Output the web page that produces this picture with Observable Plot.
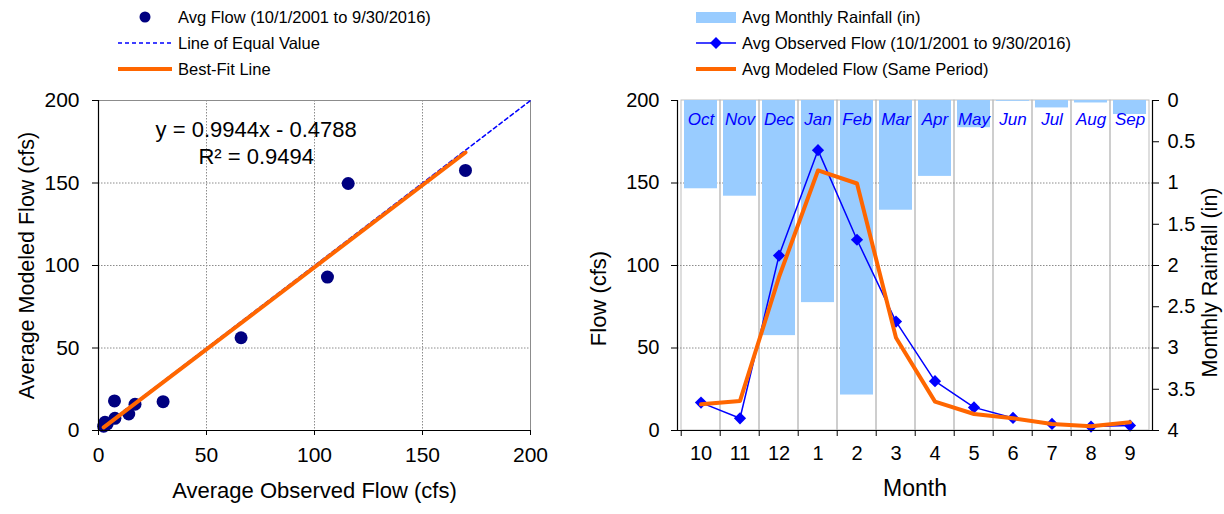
<!DOCTYPE html>
<html><head><meta charset="utf-8">
<script src="https://cdn.jsdelivr.net/npm/d3@7"></script>
<script src="https://cdn.jsdelivr.net/npm/@observablehq/plot@0.6"></script>
<style>
body{margin:0;background:#fff;}
#wrap{position:relative;width:1224px;height:514px;font-family:"Liberation Sans",Arial,sans-serif;overflow:hidden;background:#fff;}
.legend{position:absolute;font-size:16.5px;color:#000;}
.legend .row{display:flex;align-items:center;height:26px;white-space:nowrap;}
.legend .row svg{flex:none;margin-right:6px;}
#left{position:absolute;left:0;top:0;}
#right{position:absolute;left:580px;top:0;}
</style></head><body><div id="wrap">
<div id="left"></div><div id="right"></div>
<div class="legend" style="left:118px;top:4px">
  <div class="row"><svg width="54" height="20"><circle cx="27" cy="10" r="5.5" fill="#000080"/></svg>Avg Flow (10/1/2001 to 9/30/2016)</div>
  <div class="row"><svg width="54" height="20"><line x1="0" y1="10" x2="54" y2="10" stroke="#0000FF" stroke-width="1.5" stroke-dasharray="4,3"/></svg>Line of Equal Value</div>
  <div class="row"><svg width="54" height="20"><line x1="0" y1="10" x2="54" y2="10" stroke="#FF6600" stroke-width="4"/></svg>Best-Fit Line</div>
</div>
<div class="legend" style="left:696px;top:4px">
  <div class="row"><svg width="40" height="20"><rect x="0" y="5" width="40" height="11" fill="#99CCFF"/></svg>Avg Monthly Rainfall (in)</div>
  <div class="row"><svg width="40" height="20"><line x1="0" y1="10" x2="40" y2="10" stroke="#0000FF" stroke-width="1.5"/><path d="M20,4L26,10L20,16L14,10Z" fill="#0000FF"/></svg>Avg Observed Flow (10/1/2001 to 9/30/2016)</div>
  <div class="row"><svg width="40" height="20"><line x1="0" y1="10" x2="40" y2="10" stroke="#FF6600" stroke-width="4"/></svg>Avg Modeled Flow (Same Period)</div>
</div>
</div>
<script>
// ---- data ----
const months = ["10","11","12","1","2","3","4","5","6","7","8","9"];
const monthNames = ["Oct","Nov","Dec","Jan","Feb","Mar","Apr","May","Jun","Jul","Aug","Sep"];
const rainfall = [1.07, 1.16, 2.85, 2.45, 3.57, 1.33, 0.92, 0.33, 0.01, 0.09, 0.03, 0.17];
const observedFlow = [16.9, 7.4, 106, 169.9, 115.6, 66, 29.9, 14, 7.6, 4, 2.4, 3];
const modeledFlow = [15.9, 17.9, 93, 157.6, 149.7, 56.2, 17.5, 10, 7.4, 4, 2.6, 5];
const flowTicks = [0, 50, 100, 150, 200];
const rainTicks = [0, 0.5, 1, 1.5, 2, 2.5, 3, 3.5, 4];
const fitSlope = 0.9944, fitIntercept = -0.4788, fitR2 = 0.9494;
const equationText = "y = 0.9944x - 0.4788\nR² = 0.9494";
const equationPos = {x: 73, y: 175};

const FONT = "Liberation Sans, Arial, sans-serif";
const flowMax = 200, rainMax = 4;
const rainToFlow = r => flowMax - r * (flowMax / rainMax);

const table = months.map((m, i) => ({month: m, name: monthNames[i], rain: rainfall[i], observed: observedFlow[i], modeled: modeledFlow[i]}));
const scatter = table.map(d => ({obs: d.observed, mod: d.modeled}));
const fitX = [d3.min(observedFlow), d3.max(observedFlow)];
const fitLine = fitX.map(x => ({x, y: fitSlope * x + fitIntercept}));
const equalLine = [0, flowMax];

const grid = {stroke: "#8c8c8c", strokeOpacity: 1, strokeDasharray: "1.5,1.5"};

// ---- left: scatter ----
const left = Plot.plot({
  width: 580, height: 514,
  marginTop: 100, marginBottom: 84, marginLeft: 98, marginRight: 50,
  style: {fontFamily: FONT, fontSize: "21px", color: "#000", background: "transparent", overflow: "visible"},
  x: {domain: [0, 200]},
  y: {domain: [0, 200]},
  marks: [
    Plot.gridX({ticks: [50, 100, 150], ...grid}),
    Plot.gridY({ticks: [50, 100, 150], ...grid}),
    Plot.frame({stroke: "#8c8c8c"}),
    Plot.line(equalLine, {x: d => d, y: d => d, stroke: "#0000FF", strokeWidth: 1.5, strokeDasharray: "4,3"}),
    Plot.dot(scatter, {x: "obs", y: "mod", r: 6.5, fill: "#000080"}),
    Plot.line(fitLine, {x: "x", y: "y", stroke: "#FF6600", strokeWidth: 4}),
    Plot.ruleX([0], {stroke: "#000", strokeWidth: 1.2}),
    Plot.ruleY([0], {stroke: "#000", strokeWidth: 1.2}),
    Plot.axisX({ticks: flowTicks, tickSize: 5, tickPadding: 12, label: null, fontSize: 21}),
    Plot.axisY({ticks: flowTicks, tickSize: 6, tickPadding: 13, label: null, fontSize: 21}),
    Plot.text([equationText], {x: equationPos.x, y: equationPos.y, text: d => d, fontSize: 22, lineHeight: 1.23, fill: "#000"}),
    Plot.text(["Average Observed Flow (cfs)"], {frameAnchor: "bottom", textAnchor: "middle", dy: 67, text: d => d, fontSize: 22, fill: "#000"}),
    Plot.text(["Average Modeled Flow (cfs)"], {frameAnchor: "left", textAnchor: "middle", dx: -71, rotate: -90, text: d => d, fontSize: 21.5, fill: "#000"})
  ]
});
document.getElementById("left").appendChild(left);

// ---- right: monthly ----
const rW = 644, rML = 97, rMR = 72;
const bw = (rW - rML - rMR) / months.length;
const right = Plot.plot({
  width: rW, height: 514,
  marginTop: 100, marginBottom: 84, marginLeft: rML, marginRight: rMR,
  style: {fontFamily: FONT, fontSize: "20px", color: "#000", background: "transparent", overflow: "visible"},
  x: {type: "band", domain: months, padding: 0},
  y: {domain: [0, flowMax]},
  marks: [
    Plot.barY(table, {x: "month", y1: 0, y2: flowMax, fill: "none", stroke: "#bdbdbd"}),
    Plot.gridY({ticks: [50, 100, 150], ...grid}),
    Plot.barY(table, {x: "month", y1: flowMax, y2: d => rainToFlow(d.rain), fill: "#99CCFF", insetLeft: 3, insetRight: 3}),
    Plot.text(table, {x: "month", frameAnchor: "top", dy: 12, text: "name", fill: "#0000FF", fontStyle: "italic", fontSize: 17}),
    Plot.line(table, {x: "month", y: "observed", stroke: "#0000FF", strokeWidth: 1.5}),
    Plot.dot(table, {x: "month", y: "observed", symbol: "diamond2", r: 5.5, fill: "#0000FF"}),
    Plot.line(table, {x: "month", y: "modeled", stroke: "#FF6600", strokeWidth: 4}),
    Plot.frame({anchor: "left", stroke: "#000", strokeWidth: 1.2}),
    Plot.frame({anchor: "right", stroke: "#000", strokeWidth: 1.2}),
    Plot.ruleY([0], {stroke: "#000", strokeWidth: 1.2}),
    Plot.axisX({tickSize: 0, tickPadding: 15, label: null, fontSize: 20}),
    Plot.axisX({tickSize: 6, tickFormat: () => "", dx: -bw / 2, label: null}),
    Plot.axisY({ticks: flowTicks, tickSize: 6, tickPadding: 12, label: null, fontSize: 20}),
    Plot.axisY({anchor: "right", ticks: rainTicks.map(rainToFlow), tickFormat: v => d3.format("~g")((flowMax - v) / (flowMax / rainMax)), tickSize: 6, tickPadding: 9, label: null, fontSize: 20}),
    Plot.text(["Month"], {frameAnchor: "bottom", textAnchor: "middle", dy: 65, text: d => d, fontSize: 23, fill: "#000"}),
    Plot.text(["Flow (cfs)"], {frameAnchor: "left", textAnchor: "middle", dx: -79, dy: 33, rotate: -90, text: d => d, fontSize: 22, fill: "#000"}),
    Plot.text(["Monthly Rainfall (in)"], {frameAnchor: "right", textAnchor: "middle", dx: 58, dy: 17, rotate: -90, text: d => d, fontSize: 21.5, fill: "#000"})
  ]
});
document.getElementById("right").appendChild(right);
</script>
</body></html>
